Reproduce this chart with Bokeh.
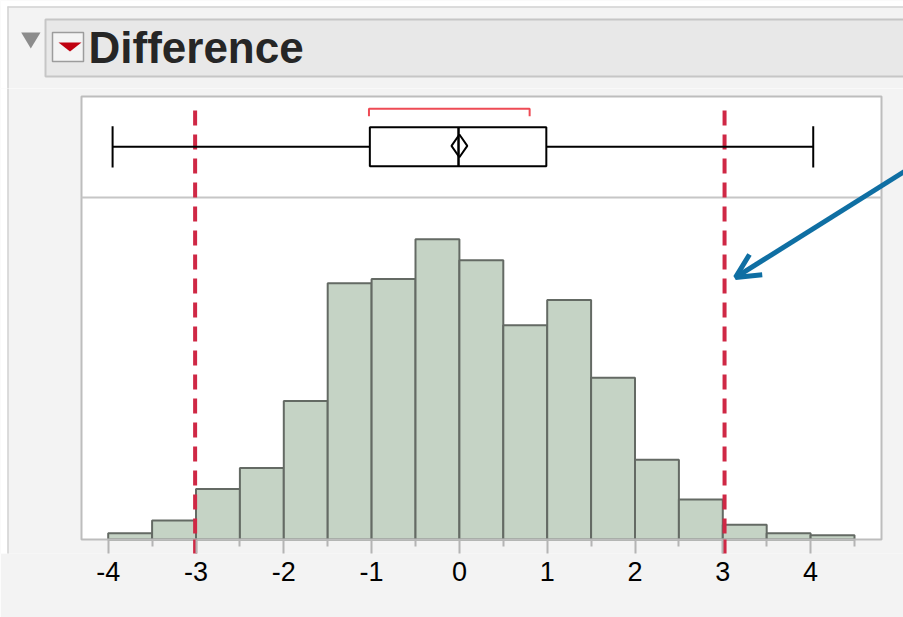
import numpy as np
from bokeh.plotting import figure
from bokeh.layouts import column
from bokeh.models import (Range1d, Arrow, OpenHead, FixedTicker, CustomJSTickFormatter)
from bokeh.core.properties import value
from bokeh.embed import file_html
from bokeh.resources import INLINE

# ---------------- data ----------------
title = "Difference"
bin_edges = [-4.0, -3.5, -3.0, -2.5, -2.0, -1.5, -1.0, -0.5, 0.0,
             0.5, 1.0, 1.5, 2.0, 2.5, 3.0, 3.5, 4.0, 4.5]
counts = [3, 9, 24, 34, 66, 122, 124, 143, 133, 102, 114, 77, 38, 19, 7, 3, 2]
major_ticks = [-4, -3, -2, -1, 0, 1, 2, 3, 4]
minor_ticks = [-3.5, -2.5, -1.5, -0.5, 0.5, 1.5, 2.5, 3.5, 4.5]

whisker_low = -3.95
q1 = -1.02
median = -0.01
q3 = 0.99
whisker_high = 4.03
mean = 0.0
mean_ci = [-0.09, 0.09]
shortest_half = [-1.03, 0.80]
limit_lines = [-3.01, 3.02]

arrow_tail = [5.25, 180.0]
arrow_tip = [3.145, 124.8]

# ---------------- styles ----------------
W = 903
PANEL = "#f3f3f3"
EDGE = "#d2d2d2"
RED = "#cf2845"
BLUE = "#0f6fa3"
BAR_FILL = "#c5d3c5"
BAR_LINE = "#646a64"
FRAME_GREY = "#bdbdbd"
TICK_GREY = "#b4b4b4"

# ---------------- header ----------------
HH = 88
hdr = figure(width=W, height=HH, x_range=Range1d(0, W), y_range=Range1d(HH, 0),
             toolbar_location=None, output_backend="svg", min_border=0,
             x_axis_location=None, y_axis_location=None)
hdr.frame_align = False
hdr.grid.visible = False
hdr.outline_line_color = None
hdr.background_fill_color = PANEL
hdr.border_fill_color = PANEL

hdr.quad(left=[0, 0], right=[W, 7], top=[0, 0], bottom=[6, HH],
         fill_color="white", line_color=None)
hdr.segment(x0=[7.5, 7], y0=[6, 6.5], x1=[7.5, W], y1=[HH, 6.5],
            line_color=EDGE, line_width=1.5)
hdr.quad(left=[45], right=[W + 10], top=[19], bottom=[76],
         fill_color="#e8e8e8", line_color="#c6c6c6", line_width=2)
hdr.patch(x=[20.7, 40, 30.3], y=[32, 32, 48], fill_color="#8c8c8c", line_color=None)
hdr.quad(left=[52], right=[83], top=[32], bottom=[61],
         fill_color="#f4f4f4", line_color="#9c9c9c", line_width=1.5)
hdr.patch(x=[58, 81, 69.5], y=[42, 42, 51], fill_color="#c00010", line_color=None)
hdr.text(x=[88], y=[47], text=[title], text_baseline="middle",
         text_font=value("Liberation Sans"), text_font_style="bold",
         text_font_size="44px", text_color="#262626")

# ---------------- main plot ----------------
MH = 617 - HH          # figure covers page y 88..617
FRAME_BOTTOM = 553     # page y of the frame bottom (axis position)
X0, PXU = 458.9, 87.8  # page x of value 0, pixels per unit
Y0, PXC = 539.0, 2.1   # page y of count 0, pixels per count
B0, PXB = 197.0, 101.0 # box-plot panel scale


def vx(px):
    return (px - X0) / PXU


def cy(py):
    return (Y0 - py) / PXC


def by(py):
    return (B0 - py) / PXB


p = figure(width=W, height=MH,
           x_range=Range1d(vx(0), vx(W)),
           y_range=Range1d(cy(FRAME_BOTTOM), cy(HH)),
           toolbar_location=None, output_backend="svg",
           min_border_left=0, min_border_right=0,
           min_border_top=0, min_border_bottom=617 - FRAME_BOTTOM,
           y_axis_location=None)
p.frame_align = False
p.extra_y_ranges = {"bp": Range1d(by(FRAME_BOTTOM), by(HH))}
p.grid.visible = False
p.background_fill_color = PANEL
p.border_fill_color = PANEL
p.outline_line_color = None

ax = p.xaxis[0]
ax.ticker = FixedTicker(ticks=major_ticks, minor_ticks=minor_ticks)
ax.formatter = CustomJSTickFormatter(code="return tick.toFixed(0);")
ax.axis_line_color = None
ax.major_tick_line_color = TICK_GREY
ax.major_tick_line_width = 2
ax.major_tick_in = 14
ax.major_tick_out = 0
ax.minor_tick_line_color = TICK_GREY
ax.minor_tick_line_width = 2
ax.minor_tick_in = 14
ax.minor_tick_out = -7
ax.major_label_text_font = "Liberation Sans"
ax.major_label_text_font_size = "27px"
ax.major_label_text_color = "black"
ax.major_label_standoff = 8

# panel left edge
p.quad(left=[vx(0)], right=[vx(7)], bottom=[cy(FRAME_BOTTOM + 5)], top=[cy(HH - 5)],
       fill_color="white", line_color=None)
p.segment(x0=[vx(7.5)], y0=[cy(FRAME_BOTTOM + 5)], x1=[vx(7.5)], y1=[cy(HH - 5)],
          line_color=EDGE, line_width=1.5)

# plot area background
area_l, area_r, area_t = vx(81), vx(881), cy(96)
p.quad(left=[area_l], right=[area_r], bottom=[0], top=[area_t],
       fill_color="white", line_color=None)

# histogram
p.quad(left=bin_edges[:-1], right=bin_edges[1:], bottom=0, top=counts,
       fill_color=BAR_FILL, line_color=BAR_LINE, line_width=2)

# plot area outline + separator between box plot and histogram
p.quad(left=[area_l], right=[area_r], bottom=[0], top=[area_t],
       fill_color=None, line_color=FRAME_GREY, line_width=2)
p.segment(x0=[area_l], y0=[by(197)], x1=[area_r], y1=[by(197)], y_range_name="bp",
          line_color="#c6c6c6", line_width=2)

# limit lines (dashed inside, solid tick below the axis line)
p.segment(x0=limit_lines, y0=by(110), x1=limit_lines, y1=by(Y0), y_range_name="bp",
          line_color=RED, line_width=4, line_dash="15 9")
p.segment(x0=limit_lines, y0=by(Y0), x1=limit_lines, y1=by(FRAME_BOTTOM + 3),
          y_range_name="bp", line_color=RED, line_width=4)

# box plot
yc, yb, yt = by(146.3), by(165.7), by(126.7)
p.segment(x0=[whisker_low, q3], y0=yc, x1=[q1, whisker_high], y1=yc,
          y_range_name="bp", line_color="black", line_width=2)
p.segment(x0=[whisker_low, whisker_high], y0=by(167), x1=[whisker_low, whisker_high],
          y1=by(125.7), y_range_name="bp", line_color="black", line_width=2)
p.quad(left=[q1], right=[q3], bottom=[yb], top=[yt], y_range_name="bp",
       fill_color="white", line_color="black", line_width=2)
p.segment(x0=[median], y0=yb, x1=[median], y1=yt, y_range_name="bp",
          line_color="black", line_width=2.5)
p.patch(x=[mean_ci[0], mean, mean_ci[1], mean],
        y=[by(145.4), by(134), by(145.4), by(156.7)],
        y_range_name="bp", fill_color=None, line_color="black", line_width=2)
p.multi_line(xs=[[shortest_half[0], shortest_half[0], shortest_half[1], shortest_half[1]]],
             ys=[[by(115.7), by(108.3), by(108.3), by(115.7)]], y_range_name="bp",
             line_color="#ee4b55", line_width=2)

# annotation arrow
p.add_layout(Arrow(end=OpenHead(size=24, line_color=BLUE, line_width=5),
                   x_start=arrow_tail[0], y_start=arrow_tail[1],
                   x_end=arrow_tip[0], y_end=arrow_tip[1],
                   line_color=BLUE, line_width=5))

layout = column(hdr, p, spacing=0)
open("out.html", "w").write(file_html(layout, INLINE))
